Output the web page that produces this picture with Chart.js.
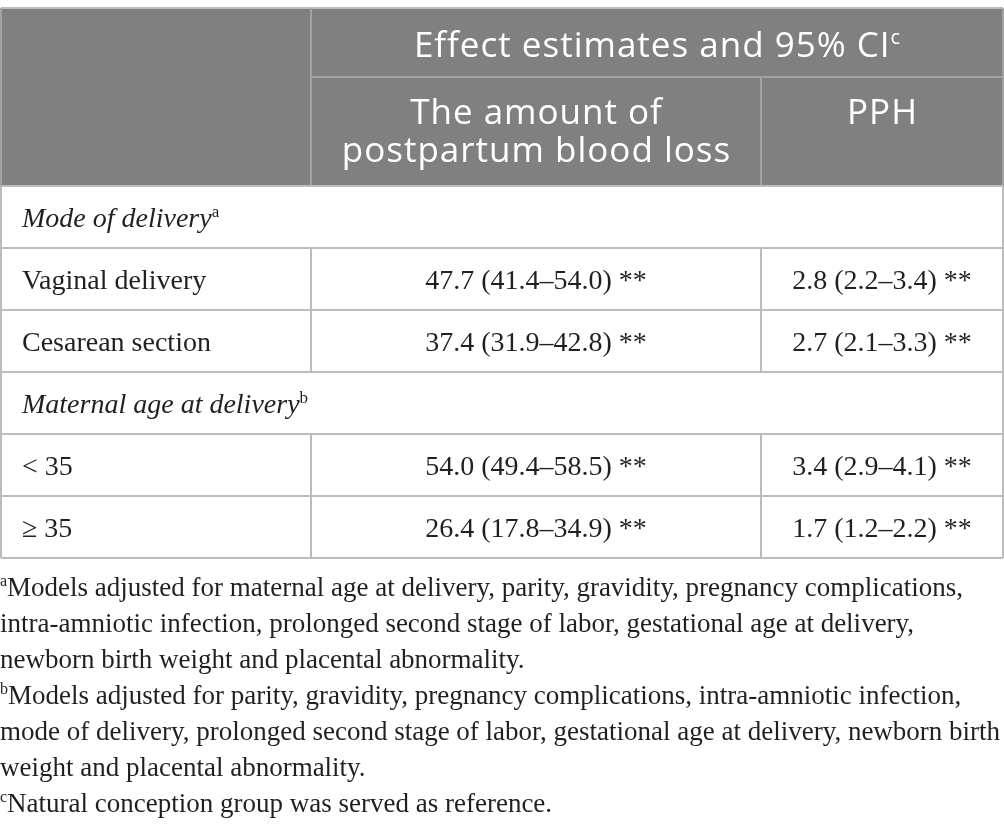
<!DOCTYPE html>
<html>
<head>
<meta charset="utf-8">
<script src="https://cdn.jsdelivr.net/npm/chart.js@4.4.1/dist/chart.umd.min.js"></script>
<style>
  html, body { margin: 0; padding: 0; background: #fff; }
  canvas { display: block; }
</style>
</head>
<body>
<canvas id="tabela" width="1004" height="839"></canvas>
<script>
// dados da tabela
const headerTop = 'Effect estimates and 95% CI';
const headerTopNote = 'c';
const columnTitles = [['The amount of', 'postpartum blood loss'], ['PPH']];
const groups = ['Mode of delivery', 'Maternal age at delivery'];
const groupNotes = ['a', 'b'];
const groupSizes = [2, 2];
const categories = ['Vaginal delivery', 'Cesarean section', '< 35', '\u2265 35'];
const bloodLoss = [47.7, 37.4, 54.0, 26.4];
const bloodLossLow = [41.4, 31.9, 49.4, 17.8];
const bloodLossHigh = [54.0, 42.8, 58.5, 34.9];
const pph = [2.8, 2.7, 3.4, 1.7];
const pphLow = [2.2, 2.1, 2.9, 1.2];
const pphHigh = [3.4, 3.3, 4.1, 2.2];
const significance = ['**', '**', '**', '**'];
const footnoteMarks = ['a', 'b', 'c'];
const footnoteLines = [
    ['Models adjusted for maternal age at delivery, parity, gravidity, pregnancy complications,',
     'intra-amniotic infection, prolonged second stage of labor, gestational age at delivery,',
     'newborn birth weight and placental abnormality.'],
    ['Models adjusted for parity, gravidity, pregnancy complications, intra-amniotic infection,',
     'mode of delivery, prolonged second stage of labor, gestational age at delivery, newborn birth',
     'weight and placental abnormality.'],
    ['Natural conception group was served as reference.']
];

// layout (unidades do eixo)
const colEdges = [1, 311, 761, 1003];
const headEdges = [8, 77, 186];
const rowHeight = 62;
const footTop = 596;
const footStep = 36;

const SANS = '"Open Sans", sans-serif';
const SERIF = '"Liberation Serif", "DejaVu Serif", serif';

function fmt(v, lo, hi, sig) {
    return v.toFixed(1) + ' (' + lo.toFixed(1) + '\u2013' + hi.toFixed(1) + ') ' + sig;
}

// desenha texto com sobrescrito opcional
function rich(ctx, parts, x, y, align, spacing) {
    ctx.letterSpacing = (spacing || 0) + 'px';
    let total = 0;
    parts.forEach(p => { ctx.font = p.font; p.w = ctx.measureText(p.text).width; total += p.w; });
    if (spacing) total -= spacing;
    let cx = align === 'center' ? x - total / 2 : x;
    ctx.textAlign = 'left';
    ctx.textBaseline = 'alphabetic';
    parts.forEach(p => {
        ctx.font = p.font;
        ctx.fillText(p.text, cx, y + (p.dy || 0));
        cx += p.w;
    });
    ctx.letterSpacing = '0px';
}

const tablePlugin = {
    id: 'tabela',
    afterDraw(chart) {
        const { ctx, scales: { x, y } } = chart;
        const X = v => x.getPixelForValue(v);
        const Y = v => y.getPixelForValue(v);
        ctx.save();

        // cabecalho
        ctx.fillStyle = '#808080';
        ctx.fillRect(X(colEdges[0]), Y(headEdges[0]), X(colEdges[3]) - X(colEdges[0]), Y(headEdges[2]) - Y(headEdges[0]));

        const line = (x1, y1, x2, y2, color) => {
            ctx.strokeStyle = color;
            ctx.lineWidth = 2;
            ctx.beginPath();
            ctx.moveTo(X(x1), Y(y1));
            ctx.lineTo(X(x2), Y(y2));
            ctx.stroke();
        };

        // linhas
        const rows = [];
        let k = 0;
        groups.forEach((g, gi) => {
            rows.push({ type: 'group', label: g, note: groupNotes[gi] });
            for (let j = 0; j < groupSizes[gi]; j++, k++) rows.push({ type: 'item', idx: k });
        });
        const bodyTop = headEdges[2];
        const bodyBottom = bodyTop + rows.length * rowHeight;

        const headLine = '#a3a3a3';
        const grid = '#bcbcbc';
        line(colEdges[0], headEdges[0], colEdges[3], headEdges[0], grid);
        line(colEdges[1], headEdges[1], colEdges[3], headEdges[1], headLine);
        line(colEdges[1], headEdges[0], colEdges[1], headEdges[2], headLine);
        line(colEdges[2], headEdges[1], colEdges[2], headEdges[2], headLine);
        line(colEdges[0], headEdges[0], colEdges[0], headEdges[2], headLine);
        line(colEdges[3], headEdges[0], colEdges[3], headEdges[2], headLine);

        for (let i = 0; i <= rows.length; i++) {
            const yy = bodyTop + i * rowHeight;
            line(colEdges[0], yy, colEdges[3], yy, grid);
        }
        line(colEdges[0], bodyTop, colEdges[0], bodyBottom, grid);
        line(colEdges[3], bodyTop, colEdges[3], bodyBottom, grid);
        rows.forEach((r, i) => {
            if (r.type !== 'item') return;
            const t = bodyTop + i * rowHeight;
            line(colEdges[1], t, colEdges[1], t + rowHeight, grid);
            line(colEdges[2], t, colEdges[2], t + rowHeight, grid);
        });

        // texto do cabecalho
        ctx.fillStyle = '#ffffff';
        const headFont = '35px ' + SANS;
        rich(ctx, [{ text: headerTop, font: headFont }, { text: headerTopNote, font: '20px ' + SANS, dy: -13 }],
            X((colEdges[1] + colEdges[3]) / 2), Y(57), 'center', 1);
        columnTitles.forEach((lines, ci) => {
            const cx = X((colEdges[ci + 1] + colEdges[ci + 2]) / 2);
            lines.forEach((t, li) => {
                rich(ctx, [{ text: t, font: headFont }], cx, Y(124 + li * 38), 'center', 1);
            });
        });

        // corpo
        ctx.fillStyle = '#231f20';
        const bodyFont = '28px ' + SERIF;
        rows.forEach((r, i) => {
            const base = Y(bodyTop + i * rowHeight + rowHeight / 2 + 10);
            if (r.type === 'group') {
                rich(ctx, [{ text: r.label, font: 'italic 28px ' + SERIF }, { text: r.note, font: '17px ' + SERIF, dy: -10 }],
                    X(colEdges[0] + 21), base, 'left');
            } else {
                const n = r.idx;
                rich(ctx, [{ text: categories[n], font: bodyFont }], X(colEdges[0] + 21), base, 'left');
                rich(ctx, [{ text: fmt(bloodLoss[n], bloodLossLow[n], bloodLossHigh[n], significance[n]), font: bodyFont }],
                    X((colEdges[1] + colEdges[2]) / 2), base, 'center');
                rich(ctx, [{ text: fmt(pph[n], pphLow[n], pphHigh[n], significance[n]), font: bodyFont }],
                    X((colEdges[2] + colEdges[3]) / 2), base, 'center');
            }
        });

        // notas de rodape
        let ln = 0;
        footnoteLines.forEach((lines, fi) => {
            lines.forEach((t, li) => {
                const parts = [];
                if (li === 0) parts.push({ text: footnoteMarks[fi], font: '16px ' + SERIF, dy: -10 });
                parts.push({ text: t, font: '27px ' + SERIF });
                rich(ctx, parts, X(0), Y(footTop + ln * footStep), 'left');
                ln++;
            });
        });

        ctx.restore();
    }
};

const ctx = document.getElementById('tabela').getContext('2d');

new Chart(ctx, {
    type: 'scatter',
    data: { datasets: [{ data: [] }] },
    options: {
        responsive: false,
        animation: false,
        events: [],
        layout: { padding: 0 },
        plugins: {
            legend: { display: false },
            tooltip: { enabled: false },
        },
        scales: {
            x: { type: 'linear', min: 0, max: 1004, display: false },
            y: { type: 'linear', min: 0, max: 839, reverse: true, display: false },
        }
    },
    plugins: [tablePlugin]
});
</script>
</body>
</html>
